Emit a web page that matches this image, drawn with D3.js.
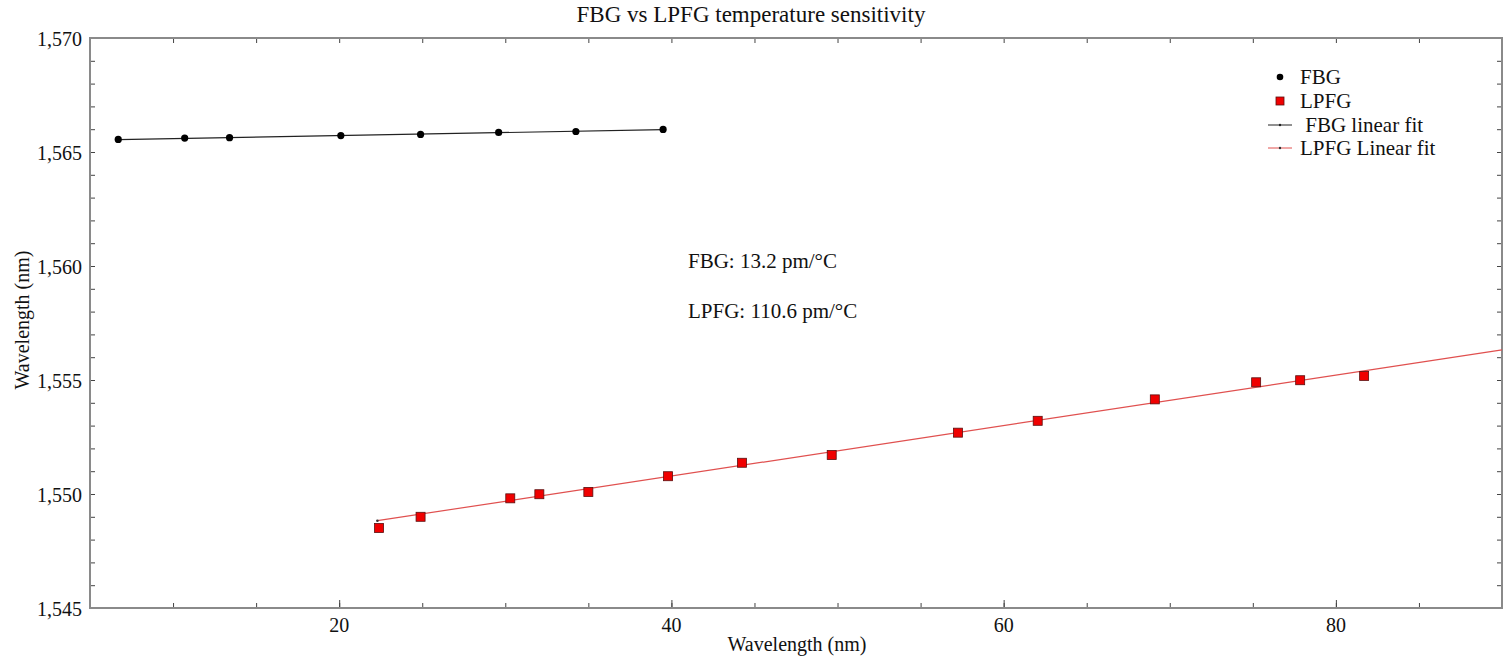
<!DOCTYPE html>
<html>
<head>
<meta charset="utf-8">
<script src="https://cdn.jsdelivr.net/npm/d3@7"></script>
<style>
  body { margin: 0; background: #fff; }
  svg text { font-family: "Liberation Serif", "Times New Roman", serif; fill: #111; }
</style>
</head>
<body>
<div id="chart"></div>
<script>
(function() {
    "use strict";

    // FBG measured points (temperature, wavelength)
    var fbgX = [6.7, 10.7, 13.4, 20.1, 24.9, 29.6, 34.25, 39.5];
    var fbgY = [1565.55, 1565.61, 1565.63, 1565.72, 1565.77, 1565.86, 1565.90, 1565.99];

    // LPFG measured points
    var lpfgX = [22.4, 24.9, 30.3, 32.05, 35.0, 39.8, 44.25, 49.65, 57.25, 62.05, 69.1, 75.2, 77.85, 81.7];
    var lpfgY = [1548.51, 1549.0, 1549.81, 1549.99, 1550.09, 1550.78, 1551.37, 1551.71, 1552.69, 1553.21, 1554.15, 1554.9, 1554.99, 1555.18];

    // linear fit end points
    var fbgFitX = [6.7, 39.5];
    var fbgFitY = [1565.54, 1565.98];
    var lpfgFitX = [22.3, 90];
    var lpfgFitY = [1548.83, 1556.32];

    var xTicks = [20, 40, 60, 80];
    var yTicks = [1545, 1550, 1555, 1560, 1565, 1570];
    var legendLabels = ["FBG", "LPFG", " FBG linear fit", "LPFG Linear fit"];
    var notes = ["FBG: 13.2 pm/°C", "LPFG: 110.6 pm/°C"];

    var w = 1503, h = 657;
    var left = 90, right = 1502, top = 38, bottom = 608;

    var x = d3.scaleLinear().domain([5, 90]).range([left, right]);
    var y = d3.scaleLinear().domain([1545, 1570]).range([bottom, top]);

    var svg = d3.select("#chart").append("svg")
        .attr("width", w)
        .attr("height", h);

    // title
    svg.append("text")
        .attr("x", 751).attr("y", 22)
        .attr("text-anchor", "middle")
        .style("font-size", "23px")
        .text("FBG vs LPFG temperature sensitivity");

    // axes: minor + major ticks, all pointing inward
    var xMinor = d3.range(10, 90, 5);
    var yMinor = d3.range(1546, 1570, 1);
    var axisColor = "#8a8a8a";

    function styleAxis(g) {
        g.select(".domain").remove();
        g.selectAll("line").attr("stroke", "#444").attr("stroke-width", 1);
    }

    svg.append("g").attr("transform", "translate(0," + bottom + ")")
        .call(d3.axisTop(x).tickValues(xMinor).tickSize(5).tickFormat(""))
        .call(styleAxis);
    svg.append("g").attr("transform", "translate(0," + bottom + ")")
        .call(d3.axisTop(x).tickValues(xTicks).tickSize(8).tickFormat(""))
        .call(styleAxis);
    svg.append("g").attr("transform", "translate(0," + top + ")")
        .call(d3.axisBottom(x).tickValues(xMinor).tickSize(5).tickFormat(""))
        .call(styleAxis);
    svg.append("g").attr("transform", "translate(" + left + ",0)")
        .call(d3.axisRight(y).tickValues(yMinor).tickSize(5).tickFormat(""))
        .call(styleAxis);
    svg.append("g").attr("transform", "translate(" + right + ",0)")
        .call(d3.axisLeft(y).tickValues(yMinor).tickSize(5).tickFormat(""))
        .call(styleAxis);

    // tick labels
    svg.selectAll(".xlab")
        .data(xTicks)
        .enter().append("text")
        .attr("class", "xlab")
        .attr("x", function(d) { return x(d); })
        .attr("y", 632)
        .attr("text-anchor", "middle")
        .style("font-size", "20px")
        .text(function(d) { return d; });

    svg.selectAll(".ylab")
        .data(yTicks)
        .enter().append("text")
        .attr("class", "ylab")
        .attr("x", 82)
        .attr("y", function(d) { return y(d); })
        .attr("dy", "0.38em")
        .attr("text-anchor", "end")
        .style("font-size", "20px")
        .text(function(d) { return d3.format(",")(d); });

    // frame
    svg.append("rect")
        .attr("x", left).attr("y", top)
        .attr("width", right - left).attr("height", bottom - top)
        .attr("fill", "none")
        .attr("stroke", axisColor)
        .attr("stroke-width", 2);

    // axis titles
    svg.append("text")
        .attr("x", 797).attr("y", 651)
        .attr("text-anchor", "middle")
        .style("font-size", "20px")
        .text("Wavelength (nm)");
    svg.append("text")
        .attr("transform", "translate(29,320) rotate(-90)")
        .attr("text-anchor", "middle")
        .style("font-size", "20px")
        .text("Wavelength (nm)");

    // fit lines
    var line = d3.line()
        .x(function(d) { return x(d[0]); })
        .y(function(d) { return y(d[1]); });

    svg.append("path")
        .datum(d3.zip(fbgFitX, fbgFitY))
        .attr("d", line)
        .attr("fill", "none")
        .attr("stroke", "#222")
        .attr("stroke-width", 1.2);

    svg.append("path")
        .datum(d3.zip(lpfgFitX, lpfgFitY))
        .attr("d", line)
        .attr("fill", "none")
        .attr("stroke", "#e0504f")
        .attr("stroke-width", 1.2);

    svg.append("circle")
        .attr("cx", x(lpfgFitX[0])).attr("cy", y(lpfgFitY[0]))
        .attr("r", 1.3).attr("fill", "#333");

    // FBG markers
    svg.selectAll(".fbg")
        .data(d3.zip(fbgX, fbgY))
        .enter().append("circle")
        .attr("class", "fbg")
        .attr("cx", function(d) { return x(d[0]); })
        .attr("cy", function(d) { return y(d[1]); })
        .attr("r", 3.6)
        .attr("fill", "#000");

    // LPFG markers
    svg.selectAll(".lpfg")
        .data(d3.zip(lpfgX, lpfgY))
        .enter().append("rect")
        .attr("class", "lpfg")
        .attr("x", function(d) { return x(d[0]) - 4.5; })
        .attr("y", function(d) { return y(d[1]) - 4.5; })
        .attr("width", 9).attr("height", 9)
        .attr("fill", "#f00000")
        .attr("stroke", "#5a1010")
        .attr("stroke-width", 0.8);

    // annotations
    svg.selectAll(".note")
        .data(notes)
        .enter().append("text")
        .attr("class", "note")
        .attr("x", 688)
        .attr("y", function(d, i) { return 268 + i * 50; })
        .style("font-size", "21px")
        .text(function(d) { return d; });

    // legend
    var lg = svg.append("g");
    var rowY = [77, 101, 125, 148];
    lg.append("circle").attr("cx", 1280).attr("cy", rowY[0]).attr("r", 3.3).attr("fill", "#000");
    lg.append("rect").attr("x", 1276).attr("y", rowY[1] - 4).attr("width", 8).attr("height", 8)
        .attr("fill", "#f00000").attr("stroke", "#5a1010").attr("stroke-width", 0.8);
    lg.append("line").attr("x1", 1268).attr("x2", 1292).attr("y1", rowY[2]).attr("y2", rowY[2])
        .attr("stroke", "#222").attr("stroke-width", 1);
    lg.append("circle").attr("cx", 1280).attr("cy", rowY[2]).attr("r", 1.2).attr("fill", "#222");
    lg.append("line").attr("x1", 1268).attr("x2", 1292).attr("y1", rowY[3]).attr("y2", rowY[3])
        .attr("stroke", "#e0504f").attr("stroke-width", 1);
    lg.append("circle").attr("cx", 1280).attr("cy", rowY[3]).attr("r", 1.2).attr("fill", "#333");

    lg.selectAll("text")
        .data(legendLabels)
        .enter().append("text")
        .attr("x", 1300)
        .attr("y", function(d, i) { return rowY[i]; })
        .attr("dy", "0.35em")
        .style("font-size", "21px")
        .style("white-space", "pre")
        .attr("xml:space", "preserve")
        .text(function(d) { return d; });
})();
</script>
</body>
</html>
